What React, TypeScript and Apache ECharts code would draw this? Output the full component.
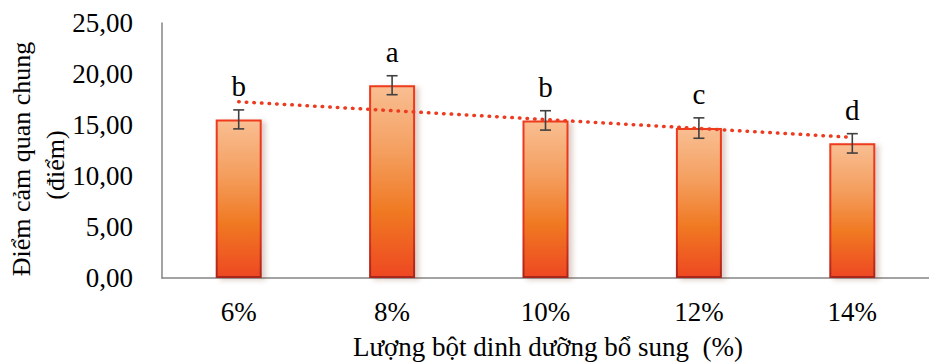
import React, { useEffect, useRef } from "react";
import * as echarts from "echarts";

const categories = ["6%", "8%", "10%", "12%", "14%"];
const scores = [15.55, 18.9, 15.45, 14.7, 13.2];
const errors = [0.93, 0.93, 0.95, 1.0, 0.95];
const letters = ["b", "a", "b", "c", "d"];
const trendLine = [17.28, null, null, null, 13.79];
const yTicks = { min: 0, max: 25, interval: 5 };
const xTitle = "Lượng bột dinh dưỡng bổ sung  (%)";
const yTitleLines = ["Điểm cảm quan chung", "(điểm)"];

const FONT = "Times New Roman, Liberation Serif, serif";

export default function App() {
  const ref = useRef<HTMLDivElement>(null);
  useEffect(() => {
    if (!ref.current) return;
    const chart = echarts.init(ref.current, null, { renderer: "svg" });
    const errData = scores.map((v, i) => [i, v, errors[i], letters[i]]);
    const txt = (size: number) => ({ fontFamily: FONT, fontSize: size, fill: "#000" });
    chart.setOption({
      animation: false,
      backgroundColor: "#ffffff",
      textStyle: { fontFamily: FONT },
      grid: { left: 162, top: 23, width: 780, height: 255, containLabel: false },
      xAxis: {
        type: "category",
        data: categories,
        axisLine: { show: true, lineStyle: { color: "#858585", width: 1.5 } },
        axisTick: { show: false },
        axisLabel: { color: "#000", fontFamily: FONT, fontSize: 27, margin: 20 },
        splitLine: { show: false },
      },
      yAxis: {
        type: "value",
        min: yTicks.min,
        max: yTicks.max,
        interval: yTicks.interval,
        axisLine: { show: true, lineStyle: { color: "#858585", width: 1.5 } },
        axisTick: { show: false },
        splitLine: { show: false },
        axisLabel: {
          color: "#000",
          fontFamily: FONT,
          fontSize: 27,
          margin: 29,
          formatter: (v: number) => v.toFixed(2).replace(".", ","),
        },
      },
      graphic: [
        {
          type: "text",
          x: 548,
          y: 347,
          style: { ...txt(27), text: xTitle, align: "center", verticalAlign: "middle" },
        },
        {
          type: "text",
          x: 21,
          y: 159,
          rotation: Math.PI / 2,
          style: { ...txt(26), text: yTitleLines[0], align: "center", verticalAlign: "middle" },
        },
        {
          type: "text",
          x: 55,
          y: 165,
          rotation: Math.PI / 2,
          style: { ...txt(26), text: yTitleLines[1], align: "center", verticalAlign: "middle" },
        },
      ],
      series: [
        {
          type: "bar",
          data: scores,
          barWidth: 46,
          z: 2,
          itemStyle: {
            color: new echarts.graphic.LinearGradient(0, 0, 0, 1, [
              { offset: 0, color: "#F9BE92" },
              { offset: 0.35, color: "#F49E5E" },
              { offset: 0.65, color: "#F07A24" },
              { offset: 1, color: "#EE4823" },
            ]),
            borderColor: new echarts.graphic.LinearGradient(0, 0, 0, 1, [
              { offset: 0, color: "#EE3A1E" },
              { offset: 0.7, color: "#E0361E" },
              { offset: 1, color: "#A8261B" },
            ]),
            borderWidth: 2,
            shadowColor: "rgba(120,60,30,0.25)",
            shadowBlur: 5,
            shadowOffsetX: 4,
            shadowOffsetY: 2,
          },
        },
        {
          type: "line",
          data: trendLine,
          connectNulls: true,
          symbol: "none",
          z: 3,
          lineStyle: { color: "#EC3B1F", width: 3.5, type: [0.5, 7.1], cap: "round" },
        },
        {
          type: "custom",
          z: 4,
          data: errData,
          renderItem: (params: any, api: any) => {
            const idx = api.value(0);
            const v = api.value(1);
            const e = api.value(2);
            const letter = letters[params.dataIndex];
            const top = api.coord([idx, v + e]);
            const bot = api.coord([idx, v - e]);
            const x = top[0];
            const cap = 5.5;
            const ls = { stroke: "#404040", lineWidth: 1.6 };
            return {
              type: "group",
              children: [
                { type: "line", shape: { x1: x, y1: top[1], x2: x, y2: bot[1] }, style: ls },
                { type: "line", shape: { x1: x - cap, y1: top[1], x2: x + cap, y2: top[1] }, style: ls },
                { type: "line", shape: { x1: x - cap, y1: bot[1], x2: x + cap, y2: bot[1] }, style: ls },
                {
                  type: "text",
                  x: x,
                  y: top[1] - 9,
                  style: { ...txt(29), text: letter, align: "center", verticalAlign: "bottom" },
                },
              ],
            };
          },
        },
      ],
    });
    return () => chart.dispose();
  }, []);
  return (
    <div
      ref={ref}
      style={{ position: "fixed", left: 0, top: 0, width: 929, height: 364 }}
    />
  );
}
